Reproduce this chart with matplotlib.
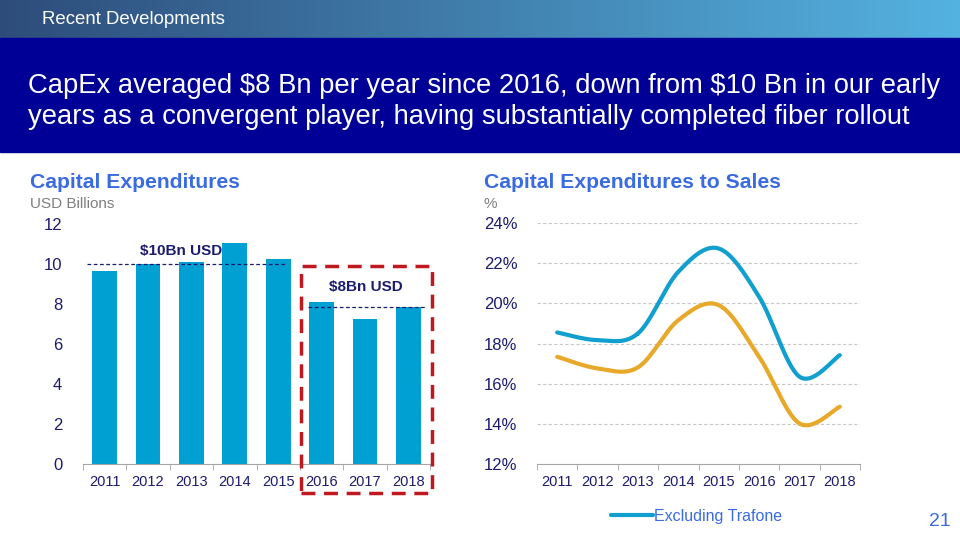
import numpy as np
import matplotlib
matplotlib.use("Agg")
import matplotlib.pyplot as plt
from matplotlib.patches import Rectangle

plt.rcParams['font.family'] = ['Liberation Sans', 'DejaVu Sans']

years = ['2011', '2012', '2013', '2014', '2015', '2016', '2017', '2018']
capex = [9.65, 9.98, 10.1, 11.07, 10.27, 8.12, 7.23, 7.85]
ratio_excl = [18.55, 18.17, 18.5, 21.57, 22.73, 20.33, 16.35, 17.42]
ratio_incl = [17.34, 16.76, 16.81, 19.16, 19.91, 17.34, 14.02, 14.85]

NAVY = '#1c1c6e'
TITLE_BLUE = '#3a6be0'
BAR_BLUE = '#00a0d2'
ORANGE = '#e8a82a'


def smooth(xs, ys, n=30):
    # catmull-rom curve through the points, like excel's smoothed line
    p = np.column_stack([xs, ys]).astype(float)
    p = np.vstack([p[0], p, p[-1]])
    out = []
    t = np.linspace(0, 1, n)[:, None]
    for i in range(1, len(p) - 2):
        p0, p1, p2, p3 = p[i - 1], p[i], p[i + 1], p[i + 2]
        seg = 0.5 * ((2 * p1) + (-p0 + p2) * t + (2 * p0 - 5 * p1 + 4 * p2 - p3) * t ** 2
                     + (-p0 + 3 * p1 - 3 * p2 + p3) * t ** 3)
        out.append(seg)
    out = np.vstack(out)
    return out[:, 0], out[:, 1]


fig = plt.figure(figsize=(9.6, 5.4), dpi=100)

# header gradient band
hdr = fig.add_axes([0, 1 - 38 / 540, 1, 38 / 540])
grad = np.linspace(0, 1, 256)[None, :]
c1 = np.array([0.18, 0.30, 0.48])
c2 = np.array([0.33, 0.70, 0.88])
img = c1[None, None, :] * (1 - grad[..., None]) + c2[None, None, :] * grad[..., None]
hdr.imshow(img, aspect='auto', extent=[0, 1, 0, 1])
hdr.set_axis_off()
fig.text(42 / 960, 1 - 20 / 540, 'Recent Developments', color='white', fontsize=13.4, va='center')

# dark title banner
fig.patches.append(Rectangle((0, 1 - 152 / 540), 1, 114 / 540, transform=fig.transFigure,
                             color='#000096', zorder=0))
fig.text(28 / 960, 1 - 86 / 540, r'CapEx averaged \$8 Bn per year since 2016, down from \$10 Bn in our early',
         color='white', fontsize=19.7, va='center')
fig.text(28 / 960, 1 - 117 / 540, 'years as a convergent player, having substantially completed fiber rollout',
         color='white', fontsize=19.7, va='center')

# left panel titles
fig.text(30 / 960, 1 - 183 / 540, 'Capital Expenditures', color=TITLE_BLUE, fontsize=15.2,
         fontweight='bold', va='center')
fig.text(30 / 960, 1 - 204 / 540, 'USD Billions', color='#7f7f7f', fontsize=11, va='center')
fig.text(484 / 960, 1 - 183 / 540, 'Capital Expenditures to Sales', color=TITLE_BLUE, fontsize=15.2,
         fontweight='bold', va='center')
fig.text(484 / 960, 1 - 204 / 540, '%', color='#7f7f7f', fontsize=11, va='center')

# bar chart
ax1 = fig.add_axes([83 / 960, 76 / 540, 347 / 960, 240 / 540])
x = np.arange(len(years))
ax1.bar(x, capex, width=0.57, color=BAR_BLUE, zorder=2)
ax1.set_xlim(-0.5, len(years) - 0.5)
ax1.set_ylim(0, 12)
ax1.set_yticks(range(0, 13, 2))
ax1.set_xticks(x)
ax1.set_xticklabels(years)
ax1.set_xticks(np.arange(-0.5, len(years), 1), minor=True)
for s in ['top', 'right', 'left']:
    ax1.spines[s].set_visible(False)
ax1.spines['bottom'].set_color('#a6a6a6')
ax1.tick_params(axis='y', length=0, pad=15, labelsize=12, labelcolor=NAVY)
ax1.tick_params(axis='x', which='major', length=0, pad=8, labelsize=10.5, labelcolor=NAVY)
ax1.tick_params(axis='x', which='minor', length=4, color='#a6a6a6')

ax1.plot([-0.41, 4.15], [10, 10], color=NAVY, lw=0.9, ls=(0, (3, 2)), zorder=3)
ax1.plot([4.69, 7.38], [7.87, 7.87], color=NAVY, lw=0.9, ls=(0, (3, 2)), zorder=3)
ax1.text(1.77, 10.66, r'\$10Bn USD', color=NAVY, fontsize=11, fontweight='bold', ha='center', va='center', zorder=4)
ax1.text(6.02, 8.87, r'\$8Bn USD', color=NAVY, fontsize=11, fontweight='bold', ha='center', va='center', zorder=4)
ax1.add_patch(Rectangle((4.52, -1.45), 3.03, 11.35, fill=False, edgecolor='#c0181f', lw=2.5,
                        ls=(0, (4, 2.5)), clip_on=False, zorder=5))

# line chart
ax2 = fig.add_axes([537 / 960, 76 / 540, 323 / 960, 241 / 540])
sx, sy = smooth(x, ratio_excl)
ax2.plot(sx, sy, color='#119fcf', lw=3, solid_capstyle='round', label='Excluding Trafone', zorder=3)
sx, sy = smooth(x, ratio_incl)
ax2.plot(sx, sy, color=ORANGE, lw=3, solid_capstyle='round', zorder=3)
ax2.set_xlim(-0.5, len(years) - 0.5)
ax2.set_ylim(12, 24)
ax2.set_yticks(range(12, 25, 2))
ax2.set_yticklabels([f'{v}%' for v in range(12, 25, 2)])
ax2.set_xticks(x)
ax2.set_xticklabels(years)
ax2.set_xticks(np.arange(-0.5, len(years), 1), minor=True)
for v in range(14, 25, 2):
    ax2.axhline(v, color='#c8c8c8', lw=0.8, ls=(0, (3, 2)), zorder=1)
for s in ['top', 'right', 'left']:
    ax2.spines[s].set_visible(False)
ax2.spines['bottom'].set_color('#a6a6a6')
ax2.tick_params(axis='y', length=0, pad=14, labelsize=12, labelcolor=NAVY)
ax2.tick_params(axis='x', which='major', length=0, pad=8, labelsize=10.5, labelcolor=NAVY)
ax2.tick_params(axis='x', which='minor', length=4, color='#a6a6a6')

leg = fig.legend(loc='center', bbox_to_anchor=(697 / 960, 1 - 516 / 540), frameon=False,
                 fontsize=11.5, handlelength=2.6, handletextpad=0.1, labelcolor='#3a6be0')

fig.text(940 / 960, 1 - 522 / 540, '21', color='#3a6be0', fontsize=14, ha='center', va='center')

fig.savefig('out.png', dpi=100)
